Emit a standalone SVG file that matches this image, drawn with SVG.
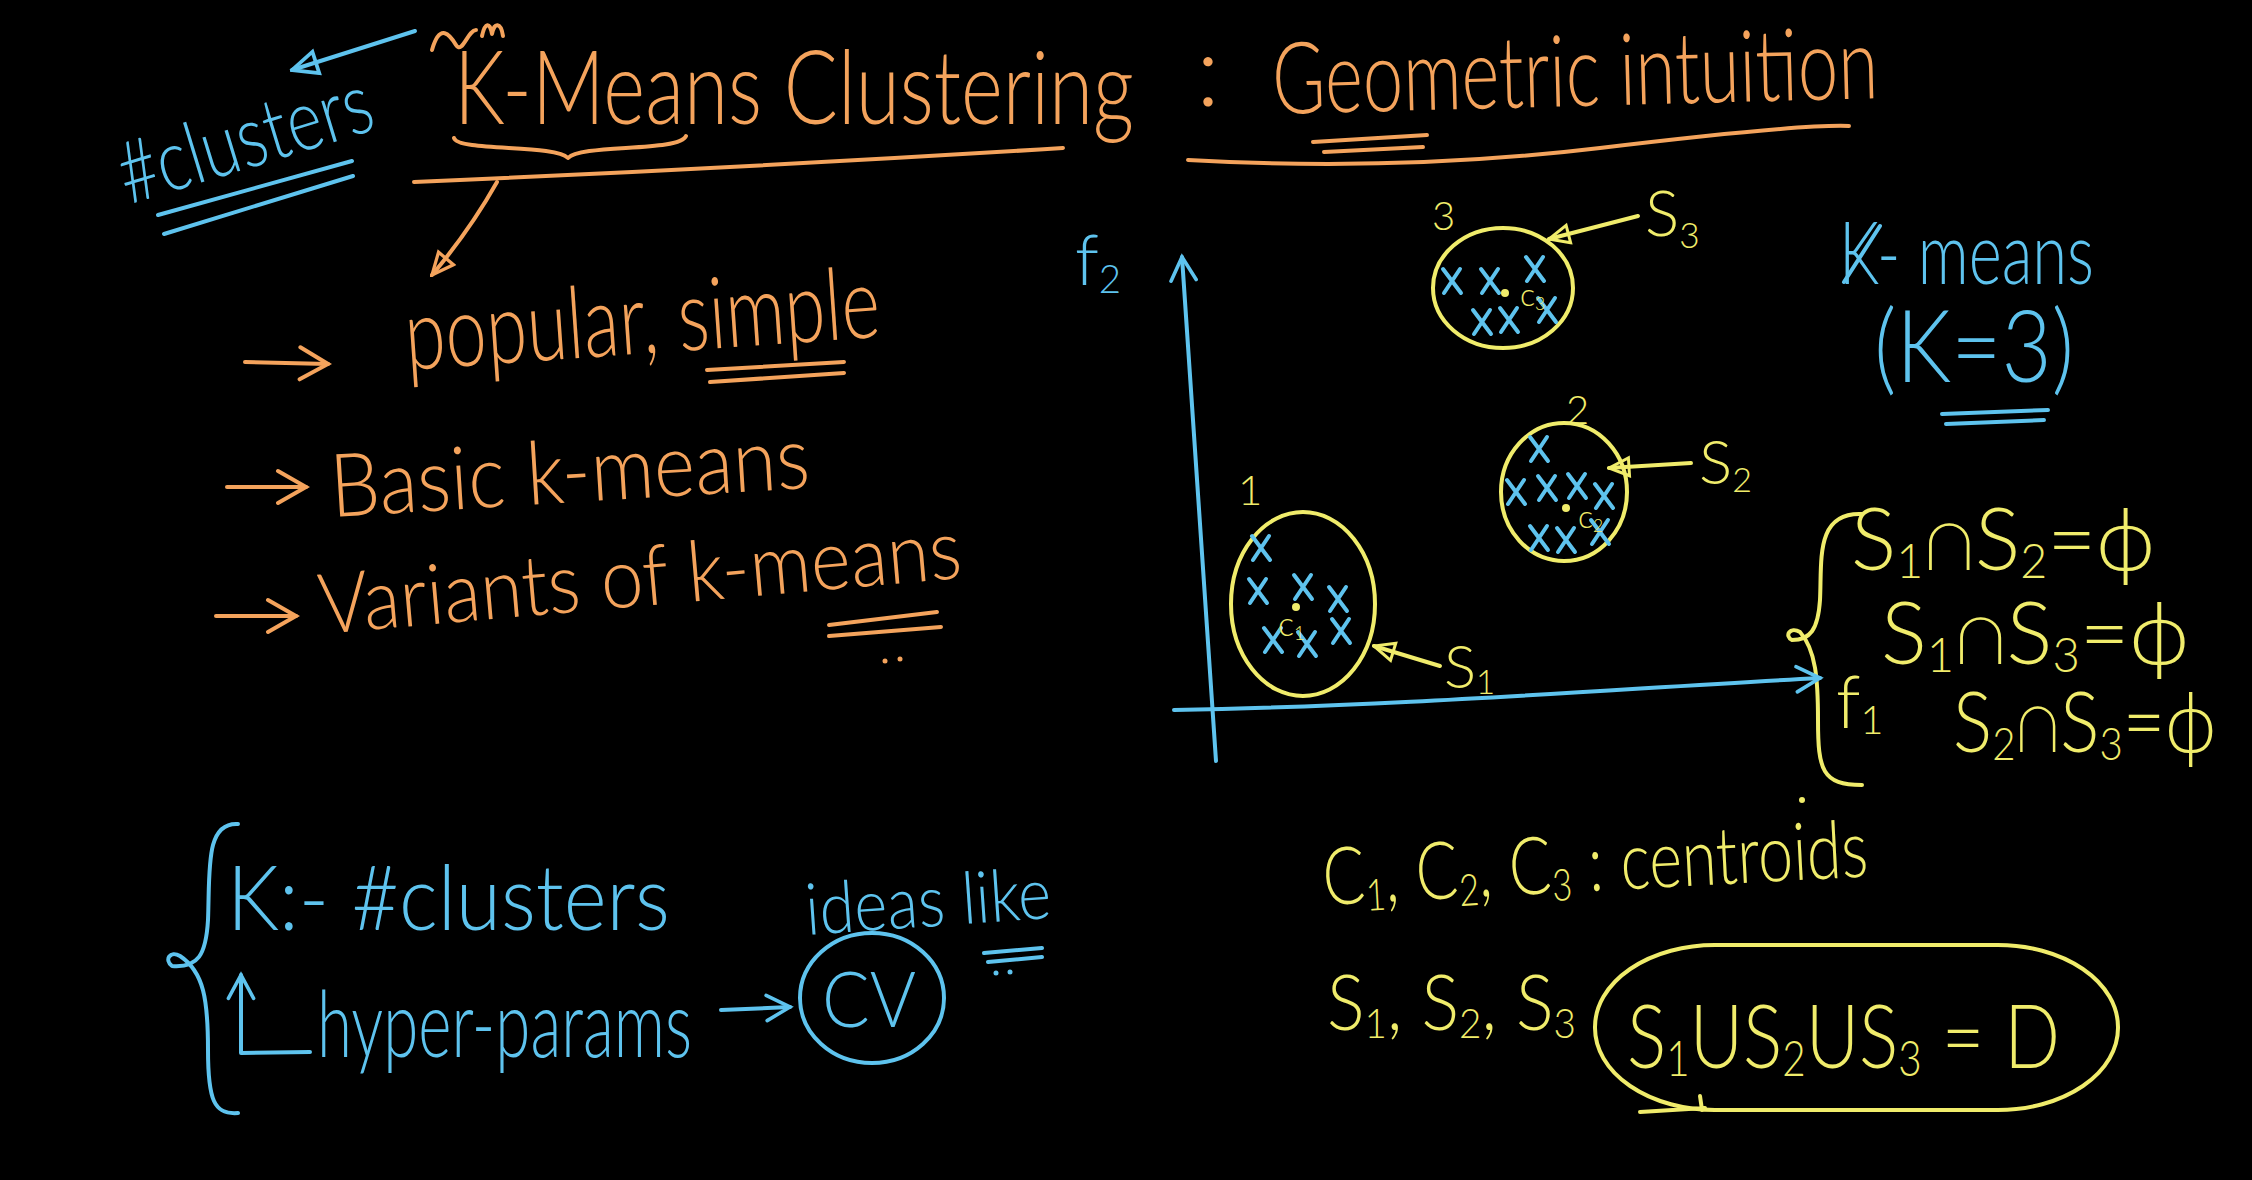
<svg xmlns="http://www.w3.org/2000/svg" width="2252" height="1180" viewBox="0 0 2252 1180">
<style>
.t{font-family:Lato,"Open Sans","Liberation Sans",sans-serif;font-weight:300}
.o{fill:#F4A35C}.b{fill:#5EC3EE}.y{fill:#F0EC6B}
.so,.sb,.sy{fill:none;stroke-width:4;stroke-linecap:round;stroke-linejoin:round}
.so{stroke:#F4A35C}.sb{stroke:#5EC3EE}.sy{stroke:#F0EC6B}
.sub{font-size:0.55em}
</style>
<defs>
<marker id="triO" viewBox="0 0 24 24" refX="22" refY="12" markerWidth="26" markerHeight="26" markerUnits="userSpaceOnUse" orient="auto"><path d="M2,3 L22,12 L2,21 Z" fill="none" stroke="#F4A35C" stroke-width="3"/></marker>
<marker id="triB" viewBox="0 0 24 24" refX="22" refY="12" markerWidth="30" markerHeight="30" markerUnits="userSpaceOnUse" orient="auto"><path d="M2,3 L22,12 L2,21 Z" fill="none" stroke="#5EC3EE" stroke-width="3"/></marker>
<marker id="triY" viewBox="0 0 24 24" refX="22" refY="12" markerWidth="24" markerHeight="24" markerUnits="userSpaceOnUse" orient="auto"><path d="M2,3 L22,12 L2,21 Z" fill="none" stroke="#F0EC6B" stroke-width="3"/></marker>
<marker id="chevO" viewBox="0 0 40 40" refX="36" refY="20" markerWidth="40" markerHeight="40" markerUnits="userSpaceOnUse" orient="auto"><path d="M8,4 L36,20 L8,36" fill="none" stroke="#F4A35C" stroke-width="4" stroke-linecap="round"/></marker>
<marker id="chevB" viewBox="0 0 40 40" refX="36" refY="20" markerWidth="36" markerHeight="36" markerUnits="userSpaceOnUse" orient="auto"><path d="M10,6 L36,20 L10,34" fill="none" stroke="#5EC3EE" stroke-width="4" stroke-linecap="round"/></marker>
<path id="xm" d="M-9,-12 L9,12 M8,-12 L-8,12"/>
</defs>
<rect width="2252" height="1180" fill="#000"/>

<g id="title">
<text class="t o" x="454" y="124" font-size="102" textLength="680" lengthAdjust="spacingAndGlyphs">K-Means Clustering</text>
<path class="so" d="M432,50 C440,22 450,35 456,45 C462,55 468,30 476,30 M482,36 c3,-14 8,-14 10,-2 c2,-12 9,-12 11,2"/>
<path class="so" d="M454,138 C458,152 556,144 568,158 C580,144 680,152 686,136"/>
<path class="so" d="M414,182 Q740,168 1063,148"/>
<text class="t o" x="1196" y="106" font-size="100">:</text>
<text class="t o" x="1273" y="114" font-size="100" textLength="606" lengthAdjust="spacingAndGlyphs" transform="rotate(-1.5 1273 114)">Geometric intuition</text>
<path class="so" d="M1188,160 Q1400,172 1600,148 T1849,126"/>
<path class="so" d="M1313,142 L1427,135 M1324,152 L1423,147"/>
</g>

<g id="clusters-note">
<text class="t b" x="245" y="168" font-size="86" text-anchor="middle" textLength="262" lengthAdjust="spacingAndGlyphs" transform="rotate(-17 245 140)">#clusters</text>
<path class="sb" d="M158,215 L352,161 M164,234 L353,176"/>
</g>

<g id="item-popular">
<text class="t o" x="407" y="370" font-size="100" textLength="476" lengthAdjust="spacingAndGlyphs" transform="rotate(-4 407 370)">popular, simple</text>
<path class="so" d="M707,370 L844,362 M710,382 L844,373"/>
</g>
<g id="item-basic">
<text class="t o" x="332" y="517" font-size="88" textLength="480" lengthAdjust="spacingAndGlyphs" transform="rotate(-3.5 332 517)">Basic k-means</text>
</g>
<g id="item-variants">
<text class="t o" x="321" y="634" font-size="84" textLength="645" lengthAdjust="spacingAndGlyphs" transform="rotate(-5 321 634)">Variants of k-means</text>
<path class="so" d="M829,625 L937,612 M829,636 L941,627"/>
<circle cx="885" cy="661" r="2.5" fill="#F4A35C"/><circle cx="900" cy="659" r="2.5" fill="#F4A35C"/>
</g>

<g id="axes-labels">
<text class="t b" x="1075" y="285" font-size="70">f<tspan class="sub" dy="8">2</tspan></text>
<text class="t y" x="1836" y="728" font-size="72">f<tspan class="sub" dy="6">1</tspan></text>
</g>

<g id="cluster1">
<ellipse class="sy" cx="1303" cy="604" rx="72" ry="92"/>
<text class="t y" x="1238" y="505" font-size="42">1</text>
<g class="sb" stroke-width="3">
<use href="#xm" x="1261" y="548"/><use href="#xm" x="1258" y="591"/><use href="#xm" x="1303" y="587"/><use href="#xm" x="1338" y="599"/><use href="#xm" x="1273" y="640"/><use href="#xm" x="1307" y="644"/><use href="#xm" x="1341" y="631"/>
</g>
<circle cx="1296" cy="607" r="4" fill="#F0EC6B"/>
<text class="t y" x="1278" y="636" font-size="34">c<tspan class="sub" dy="4">1</tspan></text>
<text class="t y" x="1444" y="688" font-size="60">S<tspan class="sub" dy="6">1</tspan></text>
</g>

<g id="cluster2">
<ellipse class="sy" cx="1564" cy="492" rx="63" ry="69"/>
<text class="t y" x="1566" y="424" font-size="40">2</text>
<g class="sb" stroke-width="3">
<use href="#xm" x="1539" y="449"/><use href="#xm" x="1516" y="492"/><use href="#xm" x="1547" y="488"/><use href="#xm" x="1577" y="486"/><use href="#xm" x="1604" y="496"/><use href="#xm" x="1539" y="538"/><use href="#xm" x="1566" y="540"/><use href="#xm" x="1600" y="532"/>
</g>
<circle cx="1566" cy="508" r="4" fill="#F0EC6B"/>
<text class="t y" x="1578" y="528" font-size="32">c<tspan class="sub" dy="4">2</tspan></text>
<text class="t y" x="1699" y="484" font-size="62">S<tspan class="sub" dy="8">2</tspan></text>
</g>

<g id="cluster3">
<ellipse class="sy" cx="1503" cy="288" rx="70" ry="60"/>
<text class="t y" x="1432" y="230" font-size="40">3</text>
<g class="sb" stroke-width="3">
<use href="#xm" x="1452" y="281"/><use href="#xm" x="1490" y="281"/><use href="#xm" x="1535" y="269"/><use href="#xm" x="1482" y="322"/><use href="#xm" x="1509" y="320"/><use href="#xm" x="1547" y="310"/>
</g>
<circle cx="1505" cy="293" r="4" fill="#F0EC6B"/>
<text class="t y" x="1520" y="306" font-size="32">c<tspan class="sub" dy="4">3</tspan></text>
<text class="t y" x="1645" y="236" font-size="64">S<tspan class="sub" dy="12">3</tspan></text>
</g>

<g id="kmeans-k3">
<text class="t b" x="1839" y="284" font-size="86" textLength="255" lengthAdjust="spacingAndGlyphs">K- means</text>
<path class="sb" d="M1844,282 L1880,226" stroke-width="3"/>
<text class="t b" x="1874" y="382" font-size="100" textLength="200" lengthAdjust="spacingAndGlyphs">(K=3)</text>
<path class="sb" d="M1942,414 L2048,410 M1946,424 L2044,420"/>
</g>

<g id="disjoint-sets">
<path class="sy" d="M1862,514 C1815,512 1822,560 1820,600 C1818,630 1810,640 1792,640 C1784,636 1790,626 1800,632 C1816,650 1818,680 1818,720 C1818,770 1822,785 1862,785"/>
<text class="t y" x="1851" y="570" font-size="86" textLength="304" lengthAdjust="spacingAndGlyphs">S<tspan class="sub" dy="8">1</tspan><tspan dy="-8">∩S</tspan><tspan class="sub" dy="8">2</tspan><tspan dy="-8">=ϕ</tspan></text>
<text class="t y" x="1881" y="664" font-size="86" textLength="308" lengthAdjust="spacingAndGlyphs">S<tspan class="sub" dy="8">1</tspan><tspan dy="-8">∩S</tspan><tspan class="sub" dy="8">3</tspan><tspan dy="-8">=ϕ</tspan></text>
<text class="t y" x="1953" y="752" font-size="84" textLength="263" lengthAdjust="spacingAndGlyphs">S<tspan class="sub" dy="8">2</tspan><tspan dy="-8">∩S</tspan><tspan class="sub" dy="8">3</tspan><tspan dy="-8">=ϕ</tspan></text>
<circle cx="1802" cy="800" r="3" fill="#F0EC6B"/>
</g>

<g id="hyperparam">
<path class="sb" d="M238,824 C205,822 210,870 208,920 C206,955 198,968 172,966 C164,960 170,950 180,956 C204,972 208,1000 208,1050 C208,1100 214,1115 238,1113"/>
<text class="t b" x="227" y="930" font-size="90" textLength="443" lengthAdjust="spacingAndGlyphs">K:- #clusters</text>
<text class="t b" x="317" y="1057" font-size="92" textLength="375" lengthAdjust="spacingAndGlyphs">hyper-params</text>
</g>

<g id="cv">
<ellipse class="sb" cx="872" cy="998" rx="72" ry="65"/>
<text class="t b" x="822" y="1027" font-size="76" textLength="94" lengthAdjust="spacingAndGlyphs">CV</text>
<text class="t b" x="807" y="935" font-size="72" textLength="246" lengthAdjust="spacingAndGlyphs" transform="rotate(-4 807 935)">ideas like</text>
<path class="sb" d="M984,953 L1042,948 M988,962 L1042,957"/>
<circle cx="996" cy="973" r="2.5" fill="#5EC3EE"/><circle cx="1010" cy="972" r="2.5" fill="#5EC3EE"/>
</g>

<g id="centroids">
<text class="t y" x="1324" y="905" font-size="80" textLength="546" lengthAdjust="spacingAndGlyphs" transform="rotate(-3 1324 905)">C<tspan class="sub" dy="8">1</tspan><tspan dy="-8">, C</tspan><tspan class="sub" dy="8">2</tspan><tspan dy="-8">, C</tspan><tspan class="sub" dy="8">3</tspan><tspan dy="-8"> : centroids</tspan></text>
<text class="t y" x="1327" y="1030" font-size="76" textLength="249" lengthAdjust="spacingAndGlyphs">S<tspan class="sub" dy="8">1</tspan><tspan dy="-8">, S</tspan><tspan class="sub" dy="8">2</tspan><tspan dy="-8">, S</tspan><tspan class="sub" dy="8">3</tspan></text>
</g>

<g id="union">
<rect class="sy" x="1595" y="945" width="523" height="165" rx="120" ry="82"/>
<path class="sy" d="M1640,1112 L1705,1108 M1700,1096 L1702,1110"/>
<text class="t y" x="1627" y="1068" font-size="88" textLength="433" lengthAdjust="spacingAndGlyphs">S<tspan class="sub" dy="8">1</tspan><tspan dy="-8">US</tspan><tspan class="sub" dy="8">2</tspan><tspan dy="-8">US</tspan><tspan class="sub" dy="8">3</tspan><tspan dy="-8"> = D</tspan></text>
</g>

<g id="connectors">
<path class="sb" d="M415,31 L292,70" marker-end="url(#triB)"/>
<path class="so" d="M497,182 Q470,230 432,275" marker-end="url(#triO)"/>
<path class="so" d="M245,362 L328,364" marker-end="url(#chevO)"/>
<path class="so" d="M227,487 L306,487" marker-end="url(#chevO)"/>
<path class="so" d="M216,616 L296,616" marker-end="url(#chevO)"/>
<path class="sb" d="M1216,761 L1182,257" marker-end="url(#chevB)"/>
<path class="sb" d="M1174,710 C1400,706 1600,690 1820,678" marker-end="url(#chevB)"/>
<path class="sy" d="M1638,216 L1549,239" marker-end="url(#triY)"/>
<path class="sy" d="M1691,463 L1609,468" marker-end="url(#triY)"/>
<path class="sy" d="M1440,666 L1374,646" marker-end="url(#triY)"/>
<path class="sb" d="M310,1052 L241,1053 L241,975" marker-end="url(#chevB)"/>
<path class="sb" d="M721,1010 L790,1007" marker-end="url(#chevB)"/>
</g>
</svg>
